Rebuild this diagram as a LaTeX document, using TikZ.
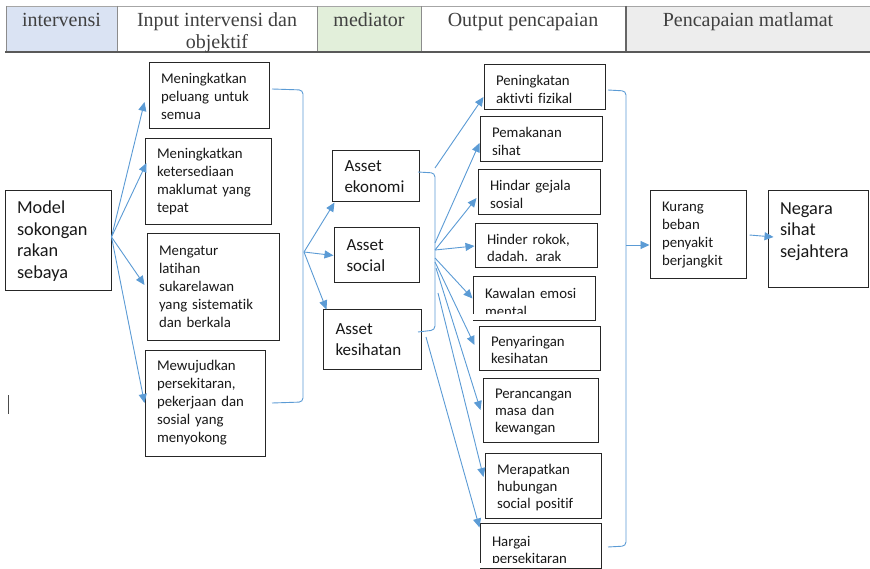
\documentclass[tikz,border=0pt]{standalone}
\usepackage{fontspec}
\setmainfont{Liberation Serif}
\newfontfamily\calfont[Ligatures={NoCommon}]{Carlito}
\usetikzlibrary{arrows.meta}
\definecolor{arrblue}{HTML}{5B9BD5}
\definecolor{hblue}{HTML}{DAE3F3}
\definecolor{hgreen}{HTML}{E2EFDA}
\definecolor{hgray}{HTML}{EDEDED}
\definecolor{tgray}{HTML}{404040}
\newcommand\mystrut[1]{\rule{0pt}{#1pt}}
\begin{document}
\begin{tikzpicture}[x=1pt,y=-1pt,
 box/.style={draw=black!85, line width=1pt, rectangle, inner xsep=12pt, inner ysep=0pt, align=left, text=black!90, font=\calfont\fontsize{14.8}{18}\selectfont},
 obox/.style={box, font=\calfont\fontsize{14.8}{17.2}\selectfont},
 bigbox/.style={box, font=\calfont\fontsize{18.3}{21.7}\selectfont},
 abox/.style={box, inner xsep=12.5pt, font=\calfont\fontsize{17}{20.5}\selectfont},
 arr/.style={draw=arrblue, line width=0.9pt, -{Triangle[length=9pt,width=8pt]}},
 brk/.style={draw=arrblue, line width=0.9pt, rounded corners=4pt},
 head/.style={font=\fontsize{20}{22}\selectfont, text=tgray, align=center, inner sep=0pt, anchor=base},
]
\useasboundingbox (0,0) rectangle (870,569);
\fill[white] (0,0) rectangle (870,569);

% header
\fill[hblue] (6,6) rectangle (117,52);
\fill[hgreen] (317,6) rectangle (421,52);
\fill[hgray] (626,6) rectangle (870,52);
\draw[black!35, line width=0.7pt] (6,6) -- (870,6);
\foreach \x in {6,117,317,421} \draw[black!45, line width=0.8pt] (\x,6) -- (\x,52);
\draw[black!60, line width=1.2pt] (626,6) -- (626,52);
\draw[black!65, line width=1.6pt] (5,52) -- (870,52);
\node[head] (h1) at (61.5,27) {intervensi};
\node[head] (h2) at (217,49) {Input intervensi dan\\objektif};
\node[head] (h3) at (369,27) {mediator};
\node[head] (h4) at (523,27) {Output pencapaian};
\node[head] (h5) at (748,27) {Pencapaian matlamat};

% boxes
\node[bigbox, text width=82pt, minimum height=100pt] (m) at (58,241) {Model\\sokongan\\rakan\\sebaya};
\node[box, text width=96pt, minimum height=66pt] (i1) at (209,96) {Meningkatkan\\peluang untuk\\semua};
\node[box, text width=102pt, minimum height=86pt] (i2) at (208,182) {Meningkatkan\\ketersediaan\\maklumat yang\\tepat};
\node[box, text width=108pt, minimum height=106pt] (i3) at (213,287) {Mengatur\\latihan\\sukarelawan\\yang sistematik\\dan berkala};
\node[box, text width=96pt, minimum height=106pt] (i4) at (205,403) {Mewujudkan\\persekitaran,\\pekerjaan dan\\sosial yang\\menyokong};

\node[abox, text width=62pt, minimum height=51pt] (ae) at (375.5,176.5) {Asset\\ekonomi};
\node[abox, text width=60pt, minimum height=55pt] (as) at (376.5,255.5) {Asset\\social};
\node[abox, text width=73pt, minimum height=59pt] (ak) at (372,339.5) {Asset\\kesihatan};

\node[obox, text width=97pt, minimum height=45pt] (o1) at (544.5,87.5) {\mystrut{14}Peningkatan\\aktivti fizikal};
\node[obox, text width=98pt, minimum height=45pt] (o2) at (541,139.5) {\mystrut{14}Pemakanan\\sihat};
\node[obox, text width=98pt, minimum height=45pt] (o3) at (539,192.5) {\mystrut{14}Hindar gejala\\sosial};
\node[obox, text width=98pt, minimum height=44pt] (o4) at (536,246) {\mystrut{14}Hinder rokok,\\dadah. arak};
\node[obox, text width=98pt, minimum height=43pt] (o5) at (534,298.5) {\mystrut{18}Kawalan emosi\\mental};
\fill[white] ([shift={(0.8pt,6.5pt)}]o5.south west) rectangle ([shift={(-0.8pt,0.8pt)}]o5.south east);
\node[obox, text width=97pt, minimum height=44pt] (o6) at (539.5,348) {\mystrut{14}Penyaringan\\kesihatan};
\node[obox, text width=91pt, minimum height=64pt] (o7) at (540.5,410) {\mystrut{14}Perancangan\\masa dan\\kewangan};
\node[obox, text width=92pt, minimum height=65pt] (o8) at (543,485.5) {\mystrut{14}Merapatkan\\hubungan\\social positif};
\node[obox, text width=97pt, minimum height=45pt] (o9) at (540.5,545.5) {\mystrut{21}Hargai\\persekitaran};
\fill[white] ([shift={(0.8pt,6pt)}]o9.south west) rectangle ([shift={(-0.8pt,0.8pt)}]o9.south east);

\node[box, text width=72pt, minimum height=88pt, font=\calfont\fontsize{14.8}{17.7}\selectfont] (k) at (698,235) {Kurang\\beban\\penyakit\\berjangkit};
\node[bigbox, text width=76pt, minimum height=97pt] (n) at (818,239.5) {Negara\\sihat\\sejahtera\\[-2.7pt]\mbox{}};

% arrows from model
\draw[arr] ([yshift=4pt]m.east) -- ([shift={(-4pt,-6pt)}]i1.west);
\draw[arr] ([yshift=4pt]m.east) -- ([shift={(2pt,19pt)}]i2.west);
\draw[arr] ([yshift=4pt]m.east) -- ([shift={(-2pt,2pt)}]i3.west);
\draw[arr] ([yshift=4pt]m.east) -- (i4.west);

% bracket inputs -> assets
\coordinate (bl1) at (272,89);
\coordinate (bl2) at (272,403);
\coordinate (hl) at (304,252);
\draw[brk] (bl1) -- (303,90) -- (303,402) -- (bl2);
\draw[arr] (hl) -- ([xshift=3pt]ae.south west);
\draw[arr] (hl) -- (as.west);
\draw[arr] (hl) -- ([xshift=4pt]ak.north west);

% bracket assets -> outputs
\coordinate (ba1) at (418,172);
\coordinate (ba2) at (418,332);
\draw[brk] (ba1) -- (435,173) -- (435,330) -- (ba2);
\coordinate (s1) at (435,168);
\coordinate (s2) at (435,243);
\coordinate (s3) at (435,250);
\coordinate (s5) at (435,258);
\coordinate (s6) at (435,262);
\coordinate (s7) at (436,268);
\coordinate (s8) at (438,293);
\coordinate (s9) at (426,337);
\draw[arr] (s1) -- ([yshift=-9.5pt]o1.west);
\draw[arr] (s2) -- ([yshift=-3.5pt]o2.west);
\draw[arr] (s3) -- ([shift={(-1pt,-5.5pt)}]o3.west);
\draw[arr] (s3) -- (o4.west);
\draw[arr] (s5) -- (o5.west);
\draw[arr] (s6) -- ([shift={(-4pt,3pt)}]o6.west);
\draw[arr] (s7) -- ([xshift=-2pt]o7.west);
\draw[arr] (s8) -- ([shift={(-1pt,8.5pt)}]o8.west);
\draw[arr] (s9) -- ([yshift=-5pt]o9.north west);

% bracket outputs -> goal
\coordinate (bo1) at (608,90);
\coordinate (bo2) at (608,547);
\coordinate (ho) at (626,245);
\draw[brk] (bo1) -- (626,91) -- (626,546) -- (bo2);
\draw[arr] (ho) -- ([yshift=-10pt]k.west);
\draw[arr] ([xshift=3pt]k.east) -- ([shift={(6pt,2.5pt)}]n.west);

% text cursor
\draw[black!70, line width=1pt] (8,395) -- (8,414);
\end{tikzpicture}
\end{document}
